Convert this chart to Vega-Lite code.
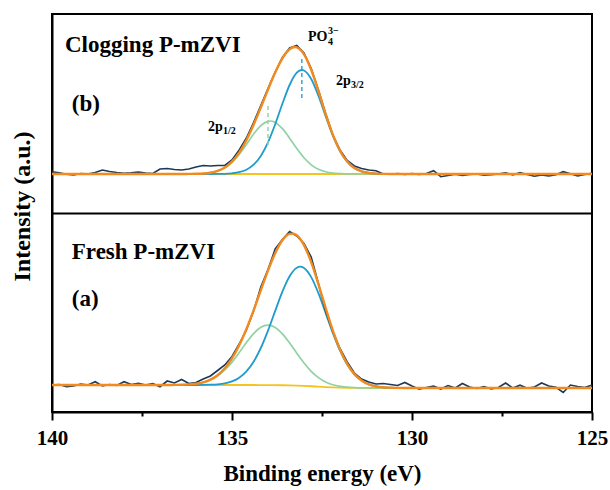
{
  "$schema": "https://vega.github.io/schema/vega-lite/v6.json",
  "width": 540,
  "height": 398,
  "autosize": {"type": "none"},
  "padding": {"left": 52, "top": 14, "right": 18, "bottom": 78},
  "config": {
    "font": "Liberation Serif",
    "view": {"stroke": null}
  },
  "datasets": {
    "fit": [
      {"panel":"b","series":"background","energy":125,"intensity":238},
      {"panel":"b","series":"background","energy":140,"intensity":238},
      {"panel":"b","series":"blue","energy":125,"intensity":238},
      {"panel":"b","series":"blue","energy":130.6,"intensity":238.0},
      {"panel":"b","series":"blue","energy":130.8,"intensity":238.1},
      {"panel":"b","series":"blue","energy":131.0,"intensity":238.35},
      {"panel":"b","series":"blue","energy":131.2,"intensity":239.0},
      {"panel":"b","series":"blue","energy":131.4,"intensity":240.6},
      {"panel":"b","series":"blue","energy":131.6,"intensity":243.9},
      {"panel":"b","series":"blue","energy":131.8,"intensity":250.3},
      {"panel":"b","series":"blue","energy":132.0,"intensity":261.0},
      {"panel":"b","series":"blue","energy":132.2,"intensity":276.5},
      {"panel":"b","series":"blue","energy":132.4,"intensity":295.9},
      {"panel":"b","series":"blue","energy":132.6,"intensity":316.3},
      {"panel":"b","series":"blue","energy":132.8,"intensity":333.0},
      {"panel":"b","series":"blue","energy":133.0,"intensity":341.5},
      {"panel":"b","series":"blue","energy":133.06,"intensity":342.0},
      {"panel":"b","series":"blue","energy":133.2,"intensity":339.3},
      {"panel":"b","series":"blue","energy":133.4,"intensity":327.0},
      {"panel":"b","series":"blue","energy":133.6,"intensity":308.3},
      {"panel":"b","series":"blue","energy":133.8,"intensity":287.8},
      {"panel":"b","series":"blue","energy":134.0,"intensity":269.7},
      {"panel":"b","series":"blue","energy":134.2,"intensity":256.1},
      {"panel":"b","series":"blue","energy":134.4,"intensity":247.3},
      {"panel":"b","series":"blue","energy":134.6,"intensity":242.3},
      {"panel":"b","series":"blue","energy":134.8,"intensity":239.8},
      {"panel":"b","series":"blue","energy":135.0,"intensity":238.7},
      {"panel":"b","series":"blue","energy":135.2,"intensity":238.2},
      {"panel":"b","series":"blue","energy":135.4,"intensity":238.1},
      {"panel":"b","series":"blue","energy":135.6,"intensity":238.0},
      {"panel":"b","series":"blue","energy":140,"intensity":238},
      {"panel":"b","series":"green","energy":125,"intensity":238},
      {"panel":"b","series":"green","energy":131.4,"intensity":238.0},
      {"panel":"b","series":"green","energy":131.6,"intensity":238.03},
      {"panel":"b","series":"green","energy":131.8,"intensity":238.1},
      {"panel":"b","series":"green","energy":132.0,"intensity":238.3},
      {"panel":"b","series":"green","energy":132.2,"intensity":238.9},
      {"panel":"b","series":"green","energy":132.4,"intensity":240.2},
      {"panel":"b","series":"green","energy":132.6,"intensity":242.75},
      {"panel":"b","series":"green","energy":132.8,"intensity":247.2},
      {"panel":"b","series":"green","energy":133.0,"intensity":254.2},
      {"panel":"b","series":"green","energy":133.2,"intensity":263.4},
      {"panel":"b","series":"green","energy":133.4,"intensity":273.8},
      {"panel":"b","series":"green","energy":133.6,"intensity":283.4},
      {"panel":"b","series":"green","energy":133.8,"intensity":289.6},
      {"panel":"b","series":"green","energy":133.94,"intensity":291.0},
      {"panel":"b","series":"green","energy":134.0,"intensity":290.7},
      {"panel":"b","series":"green","energy":134.2,"intensity":286.4},
      {"panel":"b","series":"green","energy":134.4,"intensity":277.9},
      {"panel":"b","series":"green","energy":134.6,"intensity":267.5},
      {"panel":"b","series":"green","energy":134.8,"intensity":257.6},
      {"panel":"b","series":"green","energy":135.0,"intensity":249.7},
      {"panel":"b","series":"green","energy":135.2,"intensity":244.3},
      {"panel":"b","series":"green","energy":135.4,"intensity":241.0},
      {"panel":"b","series":"green","energy":135.6,"intensity":239.3},
      {"panel":"b","series":"green","energy":135.8,"intensity":238.5},
      {"panel":"b","series":"green","energy":136.0,"intensity":238.2},
      {"panel":"b","series":"green","energy":136.2,"intensity":238.06},
      {"panel":"b","series":"green","energy":136.4,"intensity":238.0},
      {"panel":"b","series":"green","energy":140,"intensity":238},
      {"panel":"b","series":"envelope","energy":125,"intensity":238},
      {"panel":"b","series":"envelope","energy":130.4,"intensity":238.0},
      {"panel":"b","series":"envelope","energy":130.6,"intensity":238.0},
      {"panel":"b","series":"envelope","energy":130.8,"intensity":238.1},
      {"panel":"b","series":"envelope","energy":131.0,"intensity":238.4},
      {"panel":"b","series":"envelope","energy":131.2,"intensity":239.0},
      {"panel":"b","series":"envelope","energy":131.4,"intensity":240.6},
      {"panel":"b","series":"envelope","energy":131.6,"intensity":243.9},
      {"panel":"b","series":"envelope","energy":131.8,"intensity":250.4},
      {"panel":"b","series":"envelope","energy":132.0,"intensity":261.3},
      {"panel":"b","series":"envelope","energy":132.2,"intensity":277.4},
      {"panel":"b","series":"envelope","energy":132.4,"intensity":298.1},
      {"panel":"b","series":"envelope","energy":132.6,"intensity":321.1},
      {"panel":"b","series":"envelope","energy":132.8,"intensity":342.2},
      {"panel":"b","series":"envelope","energy":133.0,"intensity":357.7},
      {"panel":"b","series":"envelope","energy":133.2,"intensity":364.7},
      {"panel":"b","series":"envelope","energy":133.25,"intensity":365.0},
      {"panel":"b","series":"envelope","energy":133.4,"intensity":362.8},
      {"panel":"b","series":"envelope","energy":133.6,"intensity":353.7},
      {"panel":"b","series":"envelope","energy":133.8,"intensity":339.4},
      {"panel":"b","series":"envelope","energy":134.0,"intensity":322.4},
      {"panel":"b","series":"envelope","energy":134.2,"intensity":304.5},
      {"panel":"b","series":"envelope","energy":134.4,"intensity":287.2},
      {"panel":"b","series":"envelope","energy":134.6,"intensity":271.8},
      {"panel":"b","series":"envelope","energy":134.8,"intensity":259.4},
      {"panel":"b","series":"envelope","energy":135.0,"intensity":250.4},
      {"panel":"b","series":"envelope","energy":135.2,"intensity":244.5},
      {"panel":"b","series":"envelope","energy":135.4,"intensity":241.1},
      {"panel":"b","series":"envelope","energy":135.6,"intensity":239.3},
      {"panel":"b","series":"envelope","energy":135.8,"intensity":238.5},
      {"panel":"b","series":"envelope","energy":136.0,"intensity":238.2},
      {"panel":"b","series":"envelope","energy":136.2,"intensity":238.1},
      {"panel":"b","series":"envelope","energy":136.4,"intensity":238.0},
      {"panel":"b","series":"envelope","energy":140,"intensity":238},

      {"panel":"a","series":"background","energy":125,"intensity":24},
      {"panel":"a","series":"background","energy":131.0,"intensity":24},
      {"panel":"a","series":"background","energy":131.2,"intensity":24.02},
      {"panel":"a","series":"background","energy":131.4,"intensity":24.05},
      {"panel":"a","series":"background","energy":131.6,"intensity":24.1},
      {"panel":"a","series":"background","energy":131.8,"intensity":24.2},
      {"panel":"a","series":"background","energy":132.0,"intensity":24.35},
      {"panel":"a","series":"background","energy":132.2,"intensity":24.6},
      {"panel":"a","series":"background","energy":132.4,"intensity":24.9},
      {"panel":"a","series":"background","energy":132.6,"intensity":25.3},
      {"panel":"a","series":"background","energy":132.8,"intensity":25.75},
      {"panel":"a","series":"background","energy":133.0,"intensity":26.1},
      {"panel":"a","series":"background","energy":133.2,"intensity":26.4},
      {"panel":"a","series":"background","energy":133.4,"intensity":26.6},
      {"panel":"a","series":"background","energy":133.6,"intensity":26.75},
      {"panel":"a","series":"background","energy":133.8,"intensity":26.85},
      {"panel":"a","series":"background","energy":134.0,"intensity":26.92},
      {"panel":"a","series":"background","energy":134.2,"intensity":26.96},
      {"panel":"a","series":"background","energy":134.4,"intensity":27},
      {"panel":"a","series":"background","energy":140,"intensity":27},
      {"panel":"a","series":"blue","energy":125,"intensity":24},
      {"panel":"a","series":"blue","energy":130.4,"intensity":24.1},
      {"panel":"a","series":"blue","energy":130.6,"intensity":24.3},
      {"panel":"a","series":"blue","energy":130.8,"intensity":24.7},
      {"panel":"a","series":"blue","energy":131.0,"intensity":25.7},
      {"panel":"a","series":"blue","energy":131.2,"intensity":27.7},
      {"panel":"a","series":"blue","energy":131.4,"intensity":31.4},
      {"panel":"a","series":"blue","energy":131.6,"intensity":37.7},
      {"panel":"a","series":"blue","energy":131.8,"intensity":47.5},
      {"panel":"a","series":"blue","energy":132.0,"intensity":61.4},
      {"panel":"a","series":"blue","energy":132.2,"intensity":79.1},
      {"panel":"a","series":"blue","energy":132.4,"intensity":99.1},
      {"panel":"a","series":"blue","energy":132.6,"intensity":118.8},
      {"panel":"a","series":"blue","energy":132.8,"intensity":134.9},
      {"panel":"a","series":"blue","energy":133.0,"intensity":144.0},
      {"panel":"a","series":"blue","energy":133.1,"intensity":145.3},
      {"panel":"a","series":"blue","energy":133.2,"intensity":144.3},
      {"panel":"a","series":"blue","energy":133.4,"intensity":135.7},
      {"panel":"a","series":"blue","energy":133.6,"intensity":120.3},
      {"panel":"a","series":"blue","energy":133.8,"intensity":101.1},
      {"panel":"a","series":"blue","energy":134.0,"intensity":81.4},
      {"panel":"a","series":"blue","energy":134.2,"intensity":64.0},
      {"panel":"a","series":"blue","energy":134.4,"intensity":50.3},
      {"panel":"a","series":"blue","energy":134.6,"intensity":40.6},
      {"panel":"a","series":"blue","energy":134.8,"intensity":34.3},
      {"panel":"a","series":"blue","energy":135.0,"intensity":30.7},
      {"panel":"a","series":"blue","energy":135.2,"intensity":28.7},
      {"panel":"a","series":"blue","energy":135.4,"intensity":27.7},
      {"panel":"a","series":"blue","energy":135.6,"intensity":27.3},
      {"panel":"a","series":"blue","energy":135.8,"intensity":27.1},
      {"panel":"a","series":"blue","energy":136.0,"intensity":27.0},
      {"panel":"a","series":"blue","energy":140,"intensity":27},
      {"panel":"a","series":"green","energy":125,"intensity":24},
      {"panel":"a","series":"green","energy":131.4,"intensity":24.1},
      {"panel":"a","series":"green","energy":131.6,"intensity":24.3},
      {"panel":"a","series":"green","energy":131.8,"intensity":24.8},
      {"panel":"a","series":"green","energy":132.0,"intensity":25.6},
      {"panel":"a","series":"green","energy":132.2,"intensity":27.2},
      {"panel":"a","series":"green","energy":132.4,"intensity":30.0},
      {"panel":"a","series":"green","energy":132.6,"intensity":34.4},
      {"panel":"a","series":"green","energy":132.8,"intensity":40.7},
      {"panel":"a","series":"green","energy":133.0,"intensity":49.0},
      {"panel":"a","series":"green","energy":133.2,"intensity":58.8},
      {"panel":"a","series":"green","energy":133.4,"intensity":69.0},
      {"panel":"a","series":"green","energy":133.6,"intensity":78.2},
      {"panel":"a","series":"green","energy":133.8,"intensity":84.6},
      {"panel":"a","series":"green","energy":134.0,"intensity":86.9},
      {"panel":"a","series":"green","energy":134.2,"intensity":84.7},
      {"panel":"a","series":"green","energy":134.4,"intensity":78.4},
      {"panel":"a","series":"green","energy":134.6,"intensity":69.4},
      {"panel":"a","series":"green","energy":134.8,"intensity":59.4},
      {"panel":"a","series":"green","energy":135.0,"intensity":49.9},
      {"panel":"a","series":"green","energy":135.2,"intensity":42.0},
      {"panel":"a","series":"green","energy":135.4,"intensity":36.1},
      {"panel":"a","series":"green","energy":135.6,"intensity":32.1},
      {"panel":"a","series":"green","energy":135.8,"intensity":29.6},
      {"panel":"a","series":"green","energy":136.0,"intensity":28.3},
      {"panel":"a","series":"green","energy":136.2,"intensity":27.6},
      {"panel":"a","series":"green","energy":136.4,"intensity":27.2},
      {"panel":"a","series":"green","energy":136.6,"intensity":27.1},
      {"panel":"a","series":"green","energy":136.8,"intensity":27.0},
      {"panel":"a","series":"green","energy":140,"intensity":27},
      {"panel":"a","series":"envelope","energy":125,"intensity":24},
      {"panel":"a","series":"envelope","energy":130.2,"intensity":24.0},
      {"panel":"a","series":"envelope","energy":130.4,"intensity":24.1},
      {"panel":"a","series":"envelope","energy":130.6,"intensity":24.3},
      {"panel":"a","series":"envelope","energy":130.8,"intensity":24.7},
      {"panel":"a","series":"envelope","energy":131.0,"intensity":25.7},
      {"panel":"a","series":"envelope","energy":131.2,"intensity":27.7},
      {"panel":"a","series":"envelope","energy":131.4,"intensity":31.5},
      {"panel":"a","series":"envelope","energy":131.6,"intensity":37.9},
      {"panel":"a","series":"envelope","energy":131.8,"intensity":48.1},
      {"panel":"a","series":"envelope","energy":132.0,"intensity":62.6},
      {"panel":"a","series":"envelope","energy":132.2,"intensity":81.7},
      {"panel":"a","series":"envelope","energy":132.4,"intensity":104.2},
      {"panel":"a","series":"envelope","energy":132.6,"intensity":127.9},
      {"panel":"a","series":"envelope","energy":132.8,"intensity":149.8},
      {"panel":"a","series":"envelope","energy":133.0,"intensity":166.9},
      {"panel":"a","series":"envelope","energy":133.1,"intensity":172.8},
      {"panel":"a","series":"envelope","energy":133.2,"intensity":176.7},
      {"panel":"a","series":"envelope","energy":133.3,"intensity":178.4},
      {"panel":"a","series":"envelope","energy":133.4,"intensity":178.1},
      {"panel":"a","series":"envelope","energy":133.6,"intensity":171.7},
      {"panel":"a","series":"envelope","energy":133.8,"intensity":158.8},
      {"panel":"a","series":"envelope","energy":134.0,"intensity":141.4},
      {"panel":"a","series":"envelope","energy":134.2,"intensity":121.7},
      {"panel":"a","series":"envelope","energy":134.4,"intensity":101.7},
      {"panel":"a","series":"envelope","energy":134.6,"intensity":83.0},
      {"panel":"a","series":"envelope","energy":134.8,"intensity":66.7},
      {"panel":"a","series":"envelope","energy":135.0,"intensity":53.6},
      {"panel":"a","series":"envelope","energy":135.2,"intensity":43.7},
      {"panel":"a","series":"envelope","energy":135.4,"intensity":36.8},
      {"panel":"a","series":"envelope","energy":135.6,"intensity":32.4},
      {"panel":"a","series":"envelope","energy":135.8,"intensity":29.7},
      {"panel":"a","series":"envelope","energy":136.0,"intensity":28.3},
      {"panel":"a","series":"envelope","energy":136.2,"intensity":27.6},
      {"panel":"a","series":"envelope","energy":136.4,"intensity":27.2},
      {"panel":"a","series":"envelope","energy":136.6,"intensity":27.1},
      {"panel":"a","series":"envelope","energy":136.8,"intensity":27.0},
      {"panel":"a","series":"envelope","energy":140,"intensity":27}
    ],
    "raw": [
      {"panel":"b","energy":125.0,"intensity":238.7},{"panel":"b","energy":125.2,"intensity":237.5},{"panel":"b","energy":125.4,"intensity":236.0},{"panel":"b","energy":125.6,"intensity":238.2},{"panel":"b","energy":125.8,"intensity":240.3},
      {"panel":"b","energy":126.0,"intensity":237.2},{"panel":"b","energy":126.2,"intensity":236.0},{"panel":"b","energy":126.4,"intensity":237.0},{"panel":"b","energy":126.6,"intensity":235.8},{"panel":"b","energy":126.8,"intensity":237.5},
      {"panel":"b","energy":127.0,"intensity":239.3},{"panel":"b","energy":127.2,"intensity":237.0},{"panel":"b","energy":127.4,"intensity":239.3},{"panel":"b","energy":127.6,"intensity":238.0},{"panel":"b","energy":127.8,"intensity":237.2},
      {"panel":"b","energy":128.0,"intensity":236.8},{"panel":"b","energy":128.2,"intensity":238.0},{"panel":"b","energy":128.4,"intensity":237.5},{"panel":"b","energy":128.6,"intensity":236.5},{"panel":"b","energy":128.8,"intensity":237.8},
      {"panel":"b","energy":129.0,"intensity":236.5},{"panel":"b","energy":129.2,"intensity":235.3},{"panel":"b","energy":129.4,"intensity":241.3},{"panel":"b","energy":129.6,"intensity":238.5},{"panel":"b","energy":129.8,"intensity":237.5},
      {"panel":"b","energy":130.0,"intensity":238.4},{"panel":"b","energy":130.2,"intensity":237.6},{"panel":"b","energy":130.4,"intensity":238.4},{"panel":"b","energy":130.6,"intensity":237.8},{"panel":"b","energy":130.8,"intensity":238.0},
      {"panel":"b","energy":131.0,"intensity":241.3},{"panel":"b","energy":131.2,"intensity":242.0},{"panel":"b","energy":131.4,"intensity":243.5},{"panel":"b","energy":131.6,"intensity":246.0},{"panel":"b","energy":131.8,"intensity":251.5},
      {"panel":"b","energy":132.0,"intensity":262.0},{"panel":"b","energy":132.2,"intensity":277.0},{"panel":"b","energy":132.4,"intensity":298.5},{"panel":"b","energy":132.6,"intensity":322.0},{"panel":"b","energy":132.8,"intensity":343.5},
      {"panel":"b","energy":133.0,"intensity":359.0},{"panel":"b","energy":133.2,"intensity":366.5},{"panel":"b","energy":133.4,"intensity":364.0},{"panel":"b","energy":133.6,"intensity":354.5},{"panel":"b","energy":133.8,"intensity":340.0},
      {"panel":"b","energy":134.0,"intensity":323.5},{"panel":"b","energy":134.2,"intensity":306.5},{"panel":"b","energy":134.4,"intensity":289.5},{"panel":"b","energy":134.6,"intensity":274.0},{"panel":"b","energy":134.8,"intensity":262.0},
      {"panel":"b","energy":135.0,"intensity":252.0},{"panel":"b","energy":135.2,"intensity":246.5},{"panel":"b","energy":135.4,"intensity":246.5},{"panel":"b","energy":135.6,"intensity":246.0},{"panel":"b","energy":135.8,"intensity":246.5},
      {"panel":"b","energy":136.0,"intensity":245.0},{"panel":"b","energy":136.2,"intensity":243.0},{"panel":"b","energy":136.4,"intensity":242.0},{"panel":"b","energy":136.6,"intensity":242.5},{"panel":"b","energy":136.8,"intensity":243.5},
      {"panel":"b","energy":137.0,"intensity":243.0},{"panel":"b","energy":137.2,"intensity":238.5},{"panel":"b","energy":137.4,"intensity":239.0},{"panel":"b","energy":137.6,"intensity":240.0},{"panel":"b","energy":137.8,"intensity":239.3},
      {"panel":"b","energy":138.0,"intensity":238.8},{"panel":"b","energy":138.2,"intensity":239.5},{"panel":"b","energy":138.4,"intensity":240.5},{"panel":"b","energy":138.6,"intensity":242.0},{"panel":"b","energy":138.8,"intensity":239.5},
      {"panel":"b","energy":139.0,"intensity":238.0},{"panel":"b","energy":139.2,"intensity":238.5},{"panel":"b","energy":139.4,"intensity":237.0},{"panel":"b","energy":139.6,"intensity":237.8},{"panel":"b","energy":139.8,"intensity":239.3},
      {"panel":"b","energy":140.0,"intensity":240.3},
      {"panel":"a","energy":125.0,"intensity":27.0},{"panel":"a","energy":125.2,"intensity":24.5},{"panel":"a","energy":125.4,"intensity":25.5},{"panel":"a","energy":125.6,"intensity":27.0},{"panel":"a","energy":125.8,"intensity":19.5},
      {"panel":"a","energy":126.0,"intensity":24.7},{"panel":"a","energy":126.2,"intensity":26.0},{"panel":"a","energy":126.4,"intensity":29.0},{"panel":"a","energy":126.6,"intensity":25.0},{"panel":"a","energy":126.8,"intensity":23.8},
      {"panel":"a","energy":127.0,"intensity":26.8},{"panel":"a","energy":127.2,"intensity":24.0},{"panel":"a","energy":127.4,"intensity":29.0},{"panel":"a","energy":127.6,"intensity":24.5},{"panel":"a","energy":127.8,"intensity":23.0},
      {"panel":"a","energy":128.0,"intensity":25.3},{"panel":"a","energy":128.2,"intensity":23.5},{"panel":"a","energy":128.4,"intensity":25.0},{"panel":"a","energy":128.6,"intensity":28.5},{"panel":"a","energy":128.8,"intensity":24.0},
      {"panel":"a","energy":129.0,"intensity":26.5},{"panel":"a","energy":129.2,"intensity":23.0},{"panel":"a","energy":129.4,"intensity":26.0},{"panel":"a","energy":129.6,"intensity":24.5},{"panel":"a","energy":129.8,"intensity":22.8},
      {"panel":"a","energy":130.0,"intensity":26.0},{"panel":"a","energy":130.2,"intensity":29.5},{"panel":"a","energy":130.4,"intensity":26.5},{"panel":"a","energy":130.6,"intensity":27.5},{"panel":"a","energy":130.8,"intensity":28.5},
      {"panel":"a","energy":131.0,"intensity":28.0},{"panel":"a","energy":131.2,"intensity":30.0},{"panel":"a","energy":131.4,"intensity":33.0},{"panel":"a","energy":131.6,"intensity":39.0},{"panel":"a","energy":131.8,"intensity":50.0},
      {"panel":"a","energy":132.0,"intensity":63.5},{"panel":"a","energy":132.2,"intensity":80.5},{"panel":"a","energy":132.4,"intensity":101.0},{"panel":"a","energy":132.6,"intensity":128.5},{"panel":"a","energy":132.8,"intensity":155.0},
      {"panel":"a","energy":133.0,"intensity":168.5},{"panel":"a","energy":133.2,"intensity":176.0},{"panel":"a","energy":133.4,"intensity":180.5},{"panel":"a","energy":133.6,"intensity":172.5},{"panel":"a","energy":133.8,"intensity":163.0},
      {"panel":"a","energy":134.0,"intensity":142.5},{"panel":"a","energy":134.2,"intensity":125.0},{"panel":"a","energy":134.4,"intensity":101.0},{"panel":"a","energy":134.6,"intensity":82.0},{"panel":"a","energy":134.8,"intensity":68.0},
      {"panel":"a","energy":135.0,"intensity":55.5},{"panel":"a","energy":135.2,"intensity":47.0},{"panel":"a","energy":135.4,"intensity":41.5},{"panel":"a","energy":135.6,"intensity":36.0},{"panel":"a","energy":135.8,"intensity":33.0},
      {"panel":"a","energy":136.0,"intensity":29.5},{"panel":"a","energy":136.2,"intensity":28.5},{"panel":"a","energy":136.4,"intensity":32.5},{"panel":"a","energy":136.6,"intensity":29.0},{"panel":"a","energy":136.8,"intensity":31.0},
      {"panel":"a","energy":137.0,"intensity":25.3},{"panel":"a","energy":137.2,"intensity":28.5},{"panel":"a","energy":137.4,"intensity":27.0},{"panel":"a","energy":137.6,"intensity":28.7},{"panel":"a","energy":137.8,"intensity":27.5},
      {"panel":"a","energy":138.0,"intensity":30.3},{"panel":"a","energy":138.2,"intensity":26.5},{"panel":"a","energy":138.4,"intensity":27.5},{"panel":"a","energy":138.6,"intensity":26.0},{"panel":"a","energy":138.8,"intensity":30.3},
      {"panel":"a","energy":139.0,"intensity":27.0},{"panel":"a","energy":139.2,"intensity":28.0},{"panel":"a","energy":139.4,"intensity":26.0},{"panel":"a","energy":139.6,"intensity":25.3},{"panel":"a","energy":139.8,"intensity":27.5},
      {"panel":"a","energy":140.0,"intensity":27.0}
    ],
    "peaks": [
      {"component":"2p3/2","energy":133.06,"low":314,"high":354},
      {"component":"2p1/2","energy":134.0,"low":267,"high":308}
    ],
    "frame": [
      {"energy":140,"energy_end":125,"intensity":0,"intensity_end":398}
    ],
    "labels": [
      {"kind":"big","text":"Clogging P-mZVI","energy":139.64,"intensity":360},
      {"kind":"big","text":"(b)","energy":139.45,"intensity":301},
      {"kind":"big","text":"Fresh P-mZVI","energy":139.45,"intensity":153},
      {"kind":"big","text":"(a)","energy":139.45,"intensity":106},
      {"kind":"ion","text":"PO","sub":"4","sup":"3−","energy":132.89,"intensity":371},
      {"kind":"orbital","text":"2p","sub":"3/2","energy":132.11,"intensity":327},
      {"kind":"orbital","text":"2p","sub":"1/2","energy":135.67,"intensity":281}
    ]
  },
  "encoding": {
    "x": {
      "field": "energy", "type": "quantitative",
      "scale": {"domain": [125, 140], "reverse": true, "nice": false, "zero": false},
      "axis": {
        "title": "Binding energy (eV)",
        "grid": false,
        "values": [140, 137.5, 135, 132.5, 130, 127.5, 125],
        "labelExpr": "datum.value % 5 === 0 ? datum.label : ''",
        "ticks": true,
        "tickSize": {"condition": {"test": "datum.value % 5 === 0", "value": 8}, "value": 4},
        "tickWidth": 2, "tickColor": "#000000", "tickOpacity": 1,
        "domainWidth": 2, "domainColor": "#000000",
        "labelFont": "Liberation Serif", "labelFontWeight": "bold", "labelFontSize": 21, "labelColor": "#000000",
        "labelFlush": false, "labelOverlap": false, "labelPadding": 7,
        "titleFont": "Liberation Serif", "titleFontWeight": "bold", "titleFontSize": 23, "titleColor": "#000000",
        "titlePadding": 14
      }
    },
    "y": {
      "field": "intensity", "type": "quantitative",
      "scale": {"domain": [0, 398], "nice": false, "zero": false},
      "axis": {
        "title": "Intensity (a.u.)",
        "domain": true, "domainColor": "#000000", "domainWidth": 2,
        "ticks": false, "labels": false,
        "grid": true, "values": [199], "gridColor": "#000000", "gridWidth": 2, "gridOpacity": 1,
        "titleFont": "Liberation Serif", "titleFontWeight": "bold", "titleFontSize": 24, "titleColor": "#000000",
        "titlePadding": 18, "titleY": 192
      }
    }
  },
  "layer": [
    {
      "data": {"name": "frame"},
      "mark": {"type": "rect", "fill": null, "fillOpacity": 0, "stroke": "#000000", "strokeWidth": 2, "clip": false},
      "encoding": {
        "x2": {"field": "energy_end"},
        "y2": {"field": "intensity_end"}
      }
    },
    {
      "data": {"name": "fit"},
      "transform": [{"filter": "datum.series === 'background'"}],
      "mark": {"type": "line", "color": "#f6c31c", "strokeWidth": 1.8, "interpolate": "monotone"},
      "encoding": {"detail": {"field": "panel"}}
    },
    {
      "data": {"name": "fit"},
      "transform": [{"filter": "datum.series === 'green'"}],
      "mark": {"type": "line", "color": "#8fd3a2", "strokeWidth": 1.7, "interpolate": "monotone"},
      "encoding": {"detail": {"field": "panel"}}
    },
    {
      "data": {"name": "fit"},
      "transform": [{"filter": "datum.series === 'blue'"}],
      "mark": {"type": "line", "color": "#1f9ccb", "strokeWidth": 1.8, "interpolate": "monotone"},
      "encoding": {"detail": {"field": "panel"}}
    },
    {
      "data": {"name": "raw"},
      "mark": {"type": "line", "color": "#1c3a58", "strokeWidth": 1.6},
      "encoding": {"detail": {"field": "panel"}}
    },
    {
      "data": {"name": "fit"},
      "transform": [{"filter": "datum.series === 'envelope'"}],
      "mark": {"type": "line", "color": "#f28a1e", "strokeWidth": 2.4, "interpolate": "monotone"},
      "encoding": {"detail": {"field": "panel"}}
    },
    {
      "data": {"name": "peaks"},
      "mark": {"type": "rule", "strokeWidth": 1.5, "strokeDash": [4, 3]},
      "encoding": {
        "y": {"field": "low", "type": "quantitative"},
        "y2": {"field": "high"},
        "color": {"field": "component", "type": "nominal", "scale": {"domain": ["2p3/2", "2p1/2"], "range": ["#3aa3d3", "#95d6a6"]}, "legend": null}
      }
    },
    {
      "data": {"name": "labels"},
      "transform": [{"filter": "datum.kind === 'big'"}],
      "mark": {"type": "text", "align": "left", "baseline": "alphabetic", "font": "Liberation Serif", "fontWeight": "bold", "fontSize": 23, "color": "#000000"},
      "encoding": {"text": {"field": "text"}}
    },
    {
      "data": {"name": "labels"},
      "transform": [{"filter": "datum.kind !== 'big'"}],
      "mark": {"type": "text", "align": "left", "baseline": "alphabetic", "font": "Liberation Serif", "fontWeight": "bold", "fontSize": 14, "color": "#000000"},
      "encoding": {"text": {"field": "text"}}
    },
    {
      "data": {"name": "labels"},
      "transform": [{"filter": "datum.kind === 'orbital'"}],
      "mark": {"type": "text", "align": "left", "baseline": "alphabetic", "font": "Liberation Serif", "fontWeight": "bold", "fontSize": 10, "color": "#000000", "dx": 15, "dy": 3},
      "encoding": {"text": {"field": "sub"}}
    },
    {
      "data": {"name": "labels"},
      "transform": [{"filter": "datum.kind === 'ion'"}],
      "mark": {"type": "text", "align": "left", "baseline": "alphabetic", "font": "Liberation Serif", "fontWeight": "bold", "fontSize": 10, "color": "#000000", "dx": 20, "dy": 4},
      "encoding": {"text": {"field": "sub"}}
    },
    {
      "data": {"name": "labels"},
      "transform": [{"filter": "datum.kind === 'ion'"}],
      "mark": {"type": "text", "align": "left", "baseline": "alphabetic", "font": "Liberation Serif", "fontWeight": "bold", "fontSize": 10, "color": "#000000", "dx": 20, "dy": -7},
      "encoding": {"text": {"field": "sup"}}
    }
  ]
}
